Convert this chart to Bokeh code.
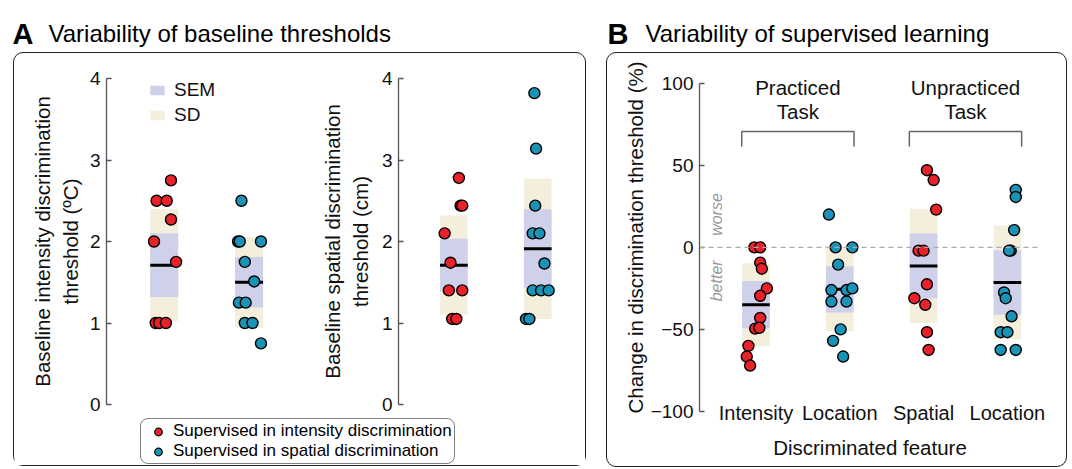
from bokeh.plotting import figure
from bokeh.models import Range1d, Legend, LegendItem, Span, FixedTicker, Label
from bokeh.layouts import row, column
from bokeh.embed import file_html
from bokeh.resources import INLINE
from bokeh.core.properties import value

FONT = "Liberation Sans"
RED = "#e8222b"
BLUE = "#1b93b6"
SEM_C = "#cfd0ea"
SD_C = "#f3efdc"
AX_C = "#555555"

# ---------------- data: panel A (baseline thresholds) ----------------
a_legend = ["Supervised in intensity discrimination", "Supervised in spatial discrimination"]
# left: intensity discrimination threshold (ºC)
a1_red_vals = [2.75, 2.5, 2.5, 2.27, 2.0, 1.75, 1.0, 1.0, 1.0]
a1_red_jit = [0.08, -0.09, 0.03, 0.08, -0.12, 0.14, -0.10, -0.06, 0.02]
a1_red_stats = dict(mean=1.71, sem=0.39, sd=0.69)
a1_blue_vals = [2.5, 2.0, 2.0, 2.0, 1.75, 1.51, 1.25, 1.25, 1.0, 1.0, 0.75]
a1_blue_jit = [-0.09, -0.13, -0.11, 0.14, -0.05, 0.06, -0.12, -0.04, -0.05, 0.04, 0.14]
a1_blue_stats = dict(mean=1.50, sem=0.31, sd=0.555)
# right: spatial discrimination threshold (cm)
a2_red_vals = [2.78, 2.44, 2.44, 2.10, 1.74, 1.40, 1.40, 1.05, 1.05]
a2_red_jit = [0.06, 0.08, 0.10, -0.11, -0.04, -0.06, 0.10, -0.02, 0.03]
a2_red_stats = dict(mean=1.71, sem=0.325, sd=0.61)
a2_blue_vals = [3.82, 3.14, 2.44, 2.10, 2.10, 1.73, 1.40, 1.40, 1.40, 1.05, 1.05]
a2_blue_jit = [-0.04, -0.02, -0.03, -0.06, 0.02, 0.08, -0.06, 0.04, 0.13, -0.14, -0.10]
a2_blue_stats = dict(mean=1.91, sem=0.485, sd=0.86)
a_yticks = [0, 1, 2, 3, 4]

# ---------------- data: panel B (change in threshold, %) ----------------
b_categories = ["Intensity", "Location", "Spatial", "Location"]
b_groups = ["Practiced\nTask", "Unpracticed\nTask"]
b_colors = [RED, BLUE, RED, BLUE]
b_vals = [
    [0, 0, -9.3, -13, -25, -29.5, -43, -49.5, -49, -60, -66.5, -72],
    [20, 0, 0, -10.5, -26, -26, -25, -33, -33, -50, -57, -66.5],
    [47, 41, 23, -2, -2, -22.5, -31, -35, -51.7, -62.5],
    [35, 30.7, 10.5, -2, -2, -27.5, -31, -42, -51.7, -51.7, -62.5, -62.5],
]
b_jit = [
    [-0.02, 0.05, 0.05, 0.07, 0.13, 0.05, 0.05, -0.01, 0.04, -0.09, -0.11, -0.07],
    [-0.13, -0.05, 0.15, -0.02, -0.10, 0.08, 0.15, -0.10, 0.08, 0.01, -0.08, 0.04],
    [0.04, 0.12, 0.15, -0.06, 0.0, 0.04, -0.11, 0.02, 0.04, 0.06],
    [0.10, 0.10, 0.08, 0.04, 0.02, -0.04, -0.02, 0.05, -0.08, 0.0, -0.08, 0.10],
]
b_means = [-35.0, -25.6, -11.3, -21.4]
b_sems = [14.45, 14.15, 19.75, 19.7]
b_sds = [25.25, 25.5, 34.8, 34.65]
b_yticks = [-100, -50, 0, 50, 100]

BOX_W = 0.33


def draw_group(p, xc, vals, jit, mean, sem, sd, color):
    r_sd = p.quad(left=[xc - BOX_W / 2], right=[xc + BOX_W / 2], bottom=[mean - sd], top=[mean + sd],
                  fill_color=SD_C, line_color=None)
    r_sem = p.quad(left=[xc - BOX_W / 2], right=[xc + BOX_W / 2], bottom=[mean - sem], top=[mean + sem],
                   fill_color=SEM_C, line_color=None)
    p.segment(x0=[xc - BOX_W / 2], y0=[mean], x1=[xc + BOX_W / 2], y1=[mean], line_color="black", line_width=3)
    p.scatter(x=[xc + j for j in jit], y=vals, size=11, fill_color=color, line_color="black", line_width=1.4)
    return r_sem, r_sd


def style_yaxis(p, label, ticks, standoff):
    ax = p.yaxis[0]
    ax.ticker = FixedTicker(ticks=ticks)
    ax.axis_label = label
    ax.axis_label_text_font = FONT
    ax.axis_label_text_font_size = "20.5px"
    ax.axis_label_text_font_style = "normal"
    ax.axis_label_text_color = "#111111"
    ax.axis_label_standoff = standoff
    ax.major_label_text_font = FONT
    ax.major_label_text_font_size = "19px"
    ax.major_label_text_color = "#111111"
    ax.major_label_standoff = 6
    ax.axis_line_color = AX_C
    ax.axis_line_width = 1.3
    ax.major_tick_line_color = AX_C
    ax.major_tick_line_width = 1.3
    ax.major_tick_in = 5
    ax.major_tick_out = 0
    ax.minor_tick_line_color = None


def base_fig(w, h, xr, yr, ml, mr, mt, mb, xaxis=True):
    p = figure(width=w, height=h, x_range=xr, y_range=yr, output_backend="svg", toolbar_location=None,
               min_border_left=ml, min_border_right=mr, min_border_top=mt, min_border_bottom=mb,
               x_axis_location="below" if xaxis else None)
    p.outline_line_color = None
    p.grid.visible = False
    p.background_fill_color = None
    p.border_fill_color = None
    return p


# ---------------- Panel A, left ----------------
fA1 = base_fig(304, 363, Range1d(0.32, 2.70), Range1d(0, 4), 92, 10, 25, 12, xaxis=False)
style_yaxis(fA1, "Baseline intensity discrimination\nthreshold (ºC)", a_yticks, 5)
r_sem, r_sd = draw_group(fA1, 1, a1_red_vals, a1_red_jit, color=RED, **a1_red_stats)
draw_group(fA1, 2, a1_blue_vals, a1_blue_jit, color=BLUE, **a1_blue_stats)
legA = Legend(items=[LegendItem(label="SEM", renderers=[r_sem]), LegendItem(label="SD", renderers=[r_sd])],
              location=(42, 278), glyph_width=18, glyph_height=12, label_height=22, spacing=3, padding=0,
              margin=0, label_standoff=8, label_text_font=FONT, label_text_font_size="19px",
              label_text_color="#111111", border_line_color=None, background_fill_alpha=0)
fA1.add_layout(legA)

# ---------------- Panel A, right ----------------
fA2 = base_fig(267, 363, Range1d(0.34, 2.45), Range1d(0, 4), 80, 10, 25, 12, xaxis=False)
style_yaxis(fA2, "Baseline spatial discrimination\nthreshold (cm)", a_yticks, 7)
draw_group(fA2, 1, a2_red_vals, a2_red_jit, color=RED, **a2_red_stats)
draw_group(fA2, 2, a2_blue_vals, a2_blue_jit, color=BLUE, **a2_blue_stats)

# ---------------- Panel A, bottom legend ----------------
fL = figure(width=571, height=49, x_range=Range1d(0, 1), y_range=Range1d(0, 1), output_backend="svg",
            toolbar_location=None, min_border=0, x_axis_location=None, y_axis_location=None)
fL.outline_line_color = None
fL.grid.visible = False
rl_red = fL.scatter(x=[-10], y=[-10], size=8, fill_color=RED, line_color="black", line_width=1.2)
rl_blue = fL.scatter(x=[-10], y=[-10], size=8, fill_color=BLUE, line_color="black", line_width=1.2)
legL = Legend(items=[LegendItem(label=a_legend[0], renderers=[rl_red]),
                     LegendItem(label=a_legend[1], renderers=[rl_blue])],
              location=(126, 1), glyph_width=30, glyph_height=19, label_height=19, spacing=0, padding=2,
              margin=0, label_standoff=0, label_text_font=FONT, label_text_font_size="17px",
              label_text_color="black",
              border_line_color="black", border_line_width=1.5, background_fill_alpha=0)
try:
    legL.border_radius = 8
except Exception:
    pass
fL.add_layout(legL)

# ---------------- Panel B ----------------
fB = base_fig(459, 413, Range1d(0.326, 4.395), Range1d(-100, 112), 92, 26, 10, 55)
style_yaxis(fB, "Change in discrimination threshold (%)", b_yticks, 1)
fB.yaxis[0].bounds = (-100, 100)
xa = fB.xaxis[0]
xa.ticker = FixedTicker(ticks=[1, 2, 3, 4])
xa.major_label_overrides = {i + 1: c for i, c in enumerate(b_categories)}
xa.axis_line_color = None
xa.major_tick_line_color = None
xa.minor_tick_line_color = None
xa.major_tick_in = 0
xa.major_tick_out = 0
xa.major_label_standoff = -10
xa.major_label_text_font = FONT
xa.major_label_text_font_size = "20px"
xa.major_label_text_color = "#111111"
xa.axis_label = "Discriminated feature"
xa.axis_label_text_font = FONT
xa.axis_label_text_font_size = "20.5px"
xa.axis_label_text_font_style = "normal"
xa.axis_label_text_color = "#111111"
xa.axis_label_standoff = 9

fB.add_layout(Span(location=0, dimension="width", line_color="#aaaaaa", line_dash="5 4", line_width=1.2))

for i in range(4):
    draw_group(fB, i + 1, b_vals[i], b_jit[i], b_means[i], b_sems[i], b_sds[i], b_colors[i])

# brackets and group labels
for g, name in enumerate(b_groups):
    c1, c2 = 2 * g + 1, 2 * g + 2
    xl, xr = c1 - 0.17, c2 + 0.17
    fB.multi_line(xs=[[xl, xl, xr, xr]], ys=[[61.4, 70.6, 70.6, 61.4]], line_color="#666666", line_width=1.5)
    l1, l2 = name.split("\n")
    fB.text(x=[(c1 + c2) / 2] * 2, y=[97.2, 82.8], text=[l1, l2], text_align="center", text_baseline="middle",
            text_font=value(FONT), text_font_size="20.5px", text_color="#111111")

x0 = fB.x_range.start
fB.add_layout(Label(x=x0 + 0.2, y=20, text="worse", angle=90, angle_units="deg", text_align="center",
                    text_baseline="middle", text_font=FONT, text_font_size="16px", text_font_style="italic",
                    text_color="#9a9a9a"))
fB.add_layout(Label(x=x0 + 0.2, y=-20.4, text="better", angle=90, angle_units="deg", text_align="center",
                    text_baseline="middle", text_font=FONT, text_font_size="16px", text_font_style="italic",
                    text_color="#9a9a9a"))


# ---------------- Titles ----------------
def title_fig(w, letter, text, lx, tx):
    t = figure(width=w, height=44, x_range=Range1d(0, w), y_range=Range1d(0, 44), output_backend="svg",
               toolbar_location=None, min_border=0, x_axis_location=None, y_axis_location=None)
    t.outline_line_color = None
    t.grid.visible = False
    t.add_layout(Label(x=lx, y=18.7, text=letter, text_font=FONT, text_font_size="29px",
                       text_font_style="bold", text_baseline="alphabetic", text_color="black"))
    t.add_layout(Label(x=tx, y=18.7, text=text, text_font=FONT, text_font_size="24px",
                       text_baseline="alphabetic", text_color="black"))
    return t


tA = title_fig(596, "A", "Variability of baseline thresholds", 4, 40)
tB = title_fig(464, "B", "Variability of supervised learning", 3, 41)

box_css = {"border": "1.5px solid #222222", "border-radius": "10px", "background-color": "white"}
boxA = column(row(fA1, fA2), fL, styles=box_css, margin=(0, 0, 0, 5))
boxB = column(fB, styles=box_css, margin=(0, 0, 0, 2))
root = row(column(tA, boxA), column(tB, boxB), margin=(8, 0, 0, 8))

open("out.html", "w").write(file_html(root, INLINE))
